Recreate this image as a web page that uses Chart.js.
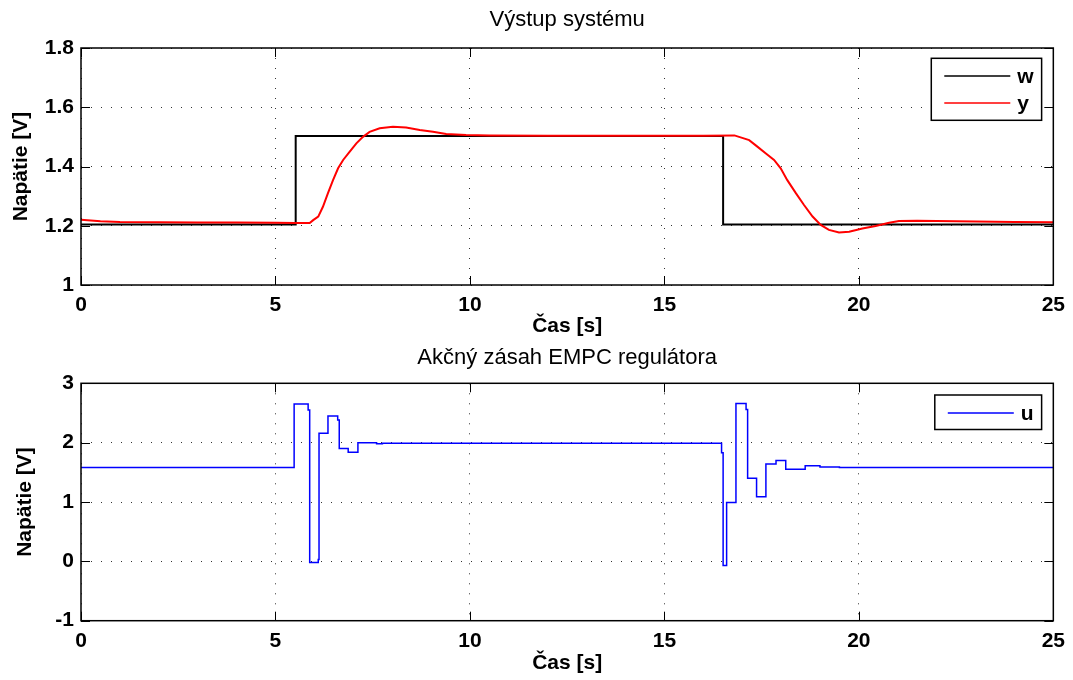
<!DOCTYPE html>
<html>
<head>
<meta charset="utf-8">
<script src="https://cdn.jsdelivr.net/npm/chart.js@4.4.1/dist/chart.umd.min.js"></script>
<style>
html, body { margin: 0; padding: 0; background: #fff; }
#wrap { position: relative; width: 1073px; height: 680px; }
.pane { position: absolute; left: 0; width: 1073px; height: 340px; }
</style>
</head>
<body>
<div id="wrap">
  <div class="pane" style="top:0"><canvas id="chartTop" width="1073" height="340"></canvas></div>
  <div class="pane" style="top:340px"><canvas id="chartBottom" width="1073" height="340"></canvas></div>
</div>
<script>
// --- Dáta (odčítané z grafu) ---
// w: žiadaná hodnota (skoková), časy zmien
const tW = [0, 5.52, 16.51, 25];
const w  = [1.204, 1.503, 1.204, 1.204];

// y: výstup systému
const tY = [0, 0.5, 1, 2, 3, 4, 5, 5.5, 5.88, 5.97, 6.10, 6.22, 6.35, 6.48, 6.61, 6.74,
            6.91, 7.08, 7.25, 7.42, 7.68, 8.02, 8.36, 8.71, 9.05, 9.39, 9.9, 10.5, 12, 14, 16, 16.8,
            17.18, 17.39, 17.61, 17.82, 17.99, 18.16, 18.38, 18.59, 18.81, 19.02, 19.23, 19.49, 19.75, 20.09, 20.43, 20.78,
            21.03, 21.5, 22, 23, 24, 25];
const y  = [1.220, 1.215, 1.213, 1.212, 1.211, 1.211, 1.210, 1.209, 1.209, 1.219, 1.231, 1.264, 1.31, 1.354, 1.394, 1.422,
            1.45, 1.478, 1.50, 1.517, 1.529, 1.534, 1.532, 1.523, 1.517, 1.51, 1.506, 1.505, 1.504, 1.504, 1.504, 1.505,
            1.489, 1.467, 1.444, 1.422, 1.394, 1.354, 1.31, 1.27, 1.231, 1.203, 1.186, 1.177, 1.18, 1.191, 1.199, 1.21,
            1.216, 1.217, 1.216, 1.214, 1.213, 1.212];

// u: akčný zásah (tvarovač nultého rádu), časy zmien
const tU = [0, 5.48, 5.84, 5.88, 6.10, 6.12, 6.35, 6.60, 6.64, 6.87, 7.12, 7.6, 7.75, 8.5,
            16.47, 16.51, 16.60, 16.84, 17.10, 17.14, 17.37, 17.61, 17.87, 18.12, 18.62, 19.0, 19.5, 25];
const u  = [1.58, 2.65, 2.55, -0.02, 0.03, 2.16, 2.45, 2.38, 1.90, 1.84, 2.0, 1.98, 1.99, 1.99,
            1.83, -0.07, 0.99, 2.66, 2.56, 1.40, 1.09, 1.64, 1.70, 1.55, 1.61, 1.59, 1.58, 1.58];

const X_TICKS = [0, 5, 10, 15, 20, 25];
const Y_TICKS_TOP = [1, 1.2, 1.4, 1.6, 1.8];
const Y_TICKS_BOTTOM = [-1, 0, 1, 2, 3];

const FONT = "'Liberation Sans', Arial, Helvetica, sans-serif";
const TICK_FONT = { family: FONT, size: 21, weight: 'bold' };
const LABEL_FONT = { family: FONT, size: 21, weight: 'bold' };

// nadpis a legenda podľa plátna (mimo options, aby ich Chart.js nerozoberal)
const DECOR = {
    chartTop: {
        title: 'Výstup systému', titleY: 20,
        legendTop: 10.3, items: [{ label: 'w', color: '#000000' }, { label: 'y', color: '#ff0000' }]
    },
    chartBottom: {
        title: 'Akčný zásah EMPC regulátora', titleY: 18,
        legendTop: 11.7, items: [{ label: 'u', color: '#0000ff' }]
    }
};

const pts = (ts, vs) => ts.map((t, i) => ({ x: t, y: vs[i] }));

// rámček grafu, vnútorné značky osí, nadpis a legenda (ako v MATLABe)
const framePlugin = {
    id: 'frame',
    afterDatasetsDraw(chart) {
        const { ctx, chartArea: a, scales } = chart;
        const d = DECOR[chart.canvas.id];
        ctx.save();
        ctx.strokeStyle = '#000';
        ctx.lineWidth = 1;
        ctx.beginPath();
        scales.x.ticks.forEach(t => {
            const px = Math.round(scales.x.getPixelForValue(t.value)) + 0.5;
            ctx.moveTo(px, a.bottom); ctx.lineTo(px, a.bottom - 9);
            ctx.moveTo(px, a.top); ctx.lineTo(px, a.top + 9);
        });
        scales.y.ticks.forEach(t => {
            const py = Math.round(scales.y.getPixelForValue(t.value)) + 0.5;
            ctx.moveTo(a.left, py); ctx.lineTo(a.left + 9, py);
            ctx.moveTo(a.right, py); ctx.lineTo(a.right - 9, py);
        });
        ctx.stroke();
        ctx.lineWidth = 1.5;
        ctx.strokeRect(a.left, a.top, a.width, a.height);

        // nadpis nad stredom grafu
        ctx.fillStyle = '#000';
        ctx.font = `normal 22px ${FONT}`;
        ctx.textAlign = 'center';
        ctx.textBaseline = 'middle';
        ctx.fillText(d.title, (a.left + a.right) / 2, d.titleY);

        // legenda
        ctx.font = `bold 21px ${FONT}`;
        const textW = Math.max(...d.items.map(it => ctx.measureText(it.label).width));
        const bw = 13 + 66 + 7 + textW + 8;
        const bh = d.items.length * 27.5 + 7;
        const x0 = a.right - 11.7 - bw;
        const y0 = a.top + d.legendTop;
        ctx.fillStyle = '#fff';
        ctx.fillRect(x0, y0, bw, bh);
        ctx.strokeStyle = '#000';
        ctx.lineWidth = 1.5;
        ctx.strokeRect(x0, y0, bw, bh);
        d.items.forEach((it, i) => {
            const ly = Math.round(y0 + 17.7 + i * 27.3);
            ctx.strokeStyle = it.color;
            ctx.lineWidth = 1.5;
            ctx.beginPath();
            ctx.moveTo(x0 + 13, ly);
            ctx.lineTo(x0 + 79, ly);
            ctx.stroke();
            ctx.fillStyle = '#000';
            ctx.textBaseline = 'middle';
            ctx.textAlign = 'left';
            ctx.fillText(it.label, x0 + 86, ly + 1.5);
        });
        ctx.restore();
    }
};

const makeChart = (canvasId, datasets, yTicks, cfg) => new Chart(document.getElementById(canvasId), {
    type: 'line',
    data: { datasets },
    options: {
        responsive: false,
        animation: false,
        events: [],
        layout: { padding: { left: 0, right: 18, top: cfg.plotTop, bottom: 0 } },
        elements: { point: { radius: 0 }, line: { tension: 0 } },
        scales: {
            x: {
                type: 'linear', min: 0, max: 25,
                afterBuildTicks: s => { s.ticks = X_TICKS.map(v => ({ value: v })); },
                afterFit: s => { s.height = cfg.xHeight; },
                grid: { color: '#333', lineWidth: 1, drawTicks: false },
                border: { display: false, dash: [1, 9] },
                ticks: { color: '#000', font: TICK_FONT, padding: 8, maxRotation: 0, autoSkip: false,
                         callback: v => String(v) },
                title: { display: true, text: 'Čas [s]', color: '#000', font: LABEL_FONT,
                         padding: { top: 0, bottom: cfg.xTitlePad } }
            },
            y: {
                type: 'linear', min: yTicks[0], max: yTicks[yTicks.length - 1],
                afterBuildTicks: s => { s.ticks = yTicks.map(v => ({ value: v })); },
                afterFit: s => { s.width = 81; },
                grid: { color: '#333', lineWidth: 1, drawTicks: false },
                border: { display: false, dash: [1, 9] },
                ticks: { color: '#000', font: TICK_FONT, padding: 7, autoSkip: false,
                         callback: v => String(v) },
                title: { display: true, text: 'Napätie [V]', color: '#000', font: LABEL_FONT,
                         padding: { top: cfg.yTitlePad, bottom: 0 } }
            }
        },
        plugins: {
            legend: { display: false },
            tooltip: { enabled: false },
            title: { display: false }
        }
    },
    plugins: [framePlugin]
});

makeChart('chartTop', [
    { label: 'w', data: pts(tW, w), borderColor: '#000000', borderWidth: 2, stepped: true, order: 1 },
    { label: 'y', data: pts(tY, y), borderColor: '#ff0000', borderWidth: 2, order: 0 }
], Y_TICKS_TOP, { plotTop: 48, xHeight: 55, xTitlePad: 1.4, yTitlePad: 8.4 });

makeChart('chartBottom', [
    { label: 'u', data: pts(tU, u), borderColor: '#0000ff', borderWidth: 1.5, stepped: true }
], Y_TICKS_BOTTOM, { plotTop: 43.3, xHeight: 59.3, xTitlePad: 4.4, yTitlePad: 12.7 });
</script>
</body>
</html>
